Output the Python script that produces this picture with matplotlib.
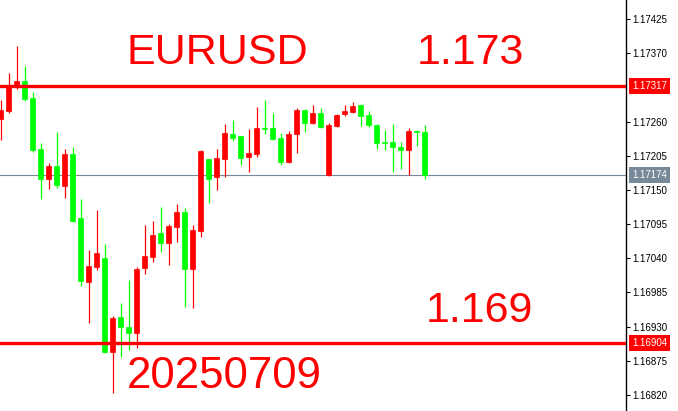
import matplotlib
matplotlib.use("Agg")
import matplotlib.pyplot as plt
import matplotlib.transforms as mtransforms
import numpy as np

# ---- data ----
opens = [1.17264, 1.17277, 1.17317, 1.17325, 1.17298, 1.17216, 1.17168, 1.17189, 1.17156, 1.17208,
         1.17105, 1.17002, 1.17026, 1.17040, 1.16889, 1.16946, 1.16929, 1.16920, 1.17024, 1.17042,
         1.17081, 1.17065, 1.17090, 1.17114, 1.17023, 1.17084, 1.17200, 1.17171, 1.17200, 1.17240,
         1.17237, 1.17203, 1.17208, 1.17250, 1.17250, 1.17234, 1.17195, 1.17240, 1.17279, 1.17258,
         1.17274, 1.17174, 1.17253, 1.17272, 1.17275, 1.17287, 1.17271, 1.17254, 1.17227, 1.17227,
         1.17219, 1.17214, 1.17245, 1.17243]
highs = [1.17295, 1.17338, 1.17382, 1.17349, 1.17308, 1.17226, 1.17193, 1.17243, 1.17216, 1.17219,
         1.17135, 1.17053, 1.17118, 1.17063, 1.16947, 1.16968, 1.17005, 1.17026, 1.17094, 1.17100,
         1.17123, 1.17095, 1.17127, 1.17121, 1.17094, 1.17214, 1.17200, 1.17216, 1.17256, 1.17263,
         1.17237, 1.17248, 1.17283, 1.17295, 1.17274, 1.17242, 1.17245, 1.17282, 1.17280, 1.17287,
         1.17282, 1.17258, 1.17272, 1.17287, 1.17291, 1.17288, 1.17277, 1.17256, 1.17246, 1.17256,
         1.17227, 1.17250, 1.17246, 1.17254]
lows = [1.17230, 1.17274, 1.17313, 1.17293, 1.17211, 1.17135, 1.17152, 1.17153, 1.17137, 1.17098,
        1.16995, 1.16936, 1.17021, 1.16888, 1.16823, 1.16881, 1.16892, 1.16896, 1.17015, 1.17034,
        1.17050, 1.17029, 1.17066, 1.16962, 1.16960, 1.17074, 1.17129, 1.17150, 1.17171, 1.17229,
        1.17190, 1.17179, 1.17203, 1.17240, 1.17231, 1.17190, 1.17194, 1.17209, 1.17243, 1.17256,
        1.17250, 1.17173, 1.17251, 1.17269, 1.17274, 1.17253, 1.17252, 1.17216, 1.17214, 1.17179,
        1.17184, 1.17174, 1.17221, 1.17168]
closes = [1.17279, 1.17316, 1.17325, 1.17296, 1.17214, 1.17168, 1.17189, 1.17158, 1.17208, 1.17100,
          1.17003, 1.17028, 1.17049, 1.16889, 1.16944, 1.16929, 1.16920, 1.17023, 1.17044, 1.17078,
          1.17065, 1.17092, 1.17114, 1.17023, 1.17085, 1.17213, 1.17168, 1.17201, 1.17242, 1.17234,
          1.17201, 1.17209, 1.17250, 1.17248, 1.17232, 1.17195, 1.17240, 1.17279, 1.17258, 1.17274,
          1.17251, 1.17254, 1.17271, 1.17277, 1.17285, 1.17269, 1.17254, 1.17226, 1.17225, 1.17219,
          1.17214, 1.17245, 1.17243, 1.17174]

level_lines = [1.17317, 1.16904]
current_price = 1.17174
y_ticks = [1.16820, 1.16875, 1.16930, 1.16985, 1.17040, 1.17095, 1.17150,
           1.17205, 1.17260, 1.17370, 1.17425]
symbol = "EURUSD"
label_top = "1.173"
label_bottom = "1.169"
date_label = "20250709"

UP = "#ff0000"
DOWN = "#00ff00"
GRAY = "#778899"

W, H = 678, 411
fig = plt.figure(figsize=(W / 100, H / 100), dpi=100)
ax_right_px = 626
ax = fig.add_axes([0, 0, ax_right_px / W, 1])

n = len(opens)
x = np.arange(n)
o = np.array(opens); c = np.array(closes); h = np.array(highs); l = np.array(lows)
colors = [UP if ci >= oi else DOWN for oi, ci in zip(o, c)]

# wicks
ax.vlines(x, l, h, colors=colors, linewidth=0.9, zorder=2)
# bodies
ax.bar(x, np.abs(c - o), bottom=np.minimum(o, c), width=0.56, color=colors,
       edgecolor=colors, linewidth=0.5, zorder=3)

# horizontal levels
for lv in level_lines:
    ax.axhline(lv, color=UP, linewidth=2.4, zorder=4)
ax.axhline(current_price, color=GRAY, linewidth=0.8, zorder=1)

# limits (pixel mapping)
k = 376 / 0.00605
top = 1.17425 + 19 / k
bottom = 1.17425 - (H - 19) / k
ax.set_ylim(bottom, top)
ax.set_xlim(-0.0625, ax_right_px / 8 - 0.0625)

# axes styling
for s in ["left", "top", "bottom"]:
    ax.spines[s].set_visible(False)
ax.spines["right"].set_color("black")
ax.spines["right"].set_linewidth(1.0)
ax.set_xticks([])
ax.yaxis.tick_right()
ax.set_yticks(y_ticks)
ax.set_yticklabels([f"{t:.5f}" for t in y_ticks])
ax.tick_params(axis="y", direction="out", length=3, width=0.8, pad=1.5,
               labelsize=7, labelcolor="black", colors="black")
for lbl in ax.get_yticklabels():
    lbl.set_fontfamily("Liberation Sans")

# price boxes on the axis
trans = mtransforms.blended_transform_factory(ax.transAxes, ax.transData)
for val, col in [(level_lines[0], UP), (level_lines[1], UP), (current_price, GRAY)]:
    ax.text(1 + 6 / ax_right_px, val, f"{val:.5f}", transform=trans, ha="left", va="center",
            fontsize=7, family="Liberation Sans", color="white", clip_on=False, zorder=6,
            bbox=dict(boxstyle="square,pad=0.28", facecolor=col, edgecolor="none"))

# big annotations
big = dict(color=UP, fontsize=31, family="Liberation Sans", va="baseline", ha="left")
fig.text(127 / W, 1 - 64 / H, symbol, **big)
fig.text(417 / W, 1 - 64 / H, label_top, **big)
fig.text(426 / W, 1 - 322 / H, label_bottom, **big)
fig.text(127 / W, 1 - 388 / H, date_label, fontsize=31.5, color=UP, family="Liberation Sans",
         va="baseline", ha="left")

fig.savefig("out.png", dpi=100, facecolor="white")
